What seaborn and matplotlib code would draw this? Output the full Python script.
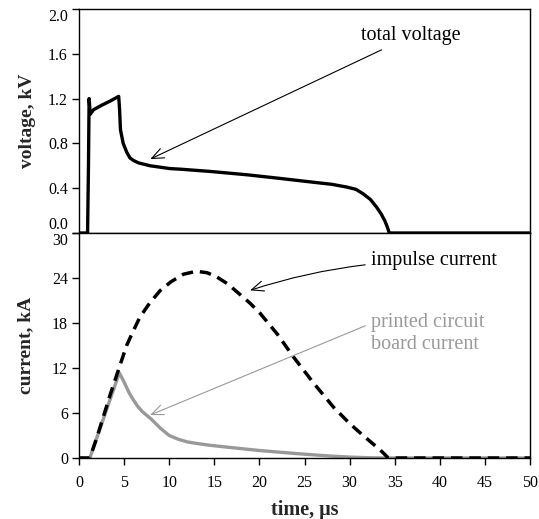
import matplotlib
matplotlib.use("Agg")
import matplotlib.pyplot as plt
import seaborn as sns
import pandas as pd

# ---- data ----
t_volt = [0, 0.95, 1.05, 1.12, 1.25, 1.6, 2.5, 3.5, 4.4, 4.5, 4.6, 4.9, 5.3, 5.65, 6.1, 6.6,
          7.9, 10.1, 11.2, 14.5, 18.6, 22.0, 26.0, 28.0, 29.7, 30.7, 31.5, 32.3, 33.0, 33.5,
          33.9, 34.2, 34.4, 50]
volt = [0, 0, 0.6, 1.2, 1.06, 1.1, 1.14, 1.18, 1.22, 1.1, 0.92, 0.8, 0.72, 0.67, 0.645, 0.626,
        0.60, 0.575, 0.57, 0.55, 0.52, 0.49, 0.453, 0.435, 0.41, 0.39, 0.35, 0.30, 0.23, 0.17,
        0.11, 0.05, 0, 0]

t_imp = [0, 1.2, 2.0, 2.7, 3.5, 4.36, 5.28, 6.0, 6.76, 7.8, 8.98, 10.2, 11.57, 13.0, 14.2,
         15.2, 16.5, 17.85, 19.0, 20.07, 22.0, 23.76, 26.0, 28.2, 30.0, 31.5, 33.4, 34.3, 50]
imp = [0, 0, 2.8, 5.5, 8.6, 11.7, 15.0, 16.9, 18.8, 20.6, 22.3, 23.5, 24.5, 24.9, 24.7,
       24.2, 23.2, 21.8, 20.6, 19.3, 16.5, 13.5, 10.0, 6.8, 4.6, 3.0, 1.06, 0, 0]

t_pcb = [0, 1.2, 4.47, 4.8, 5.2, 5.6, 6.0, 6.5, 7.0, 7.5, 8.0, 8.5, 9.0, 10.0, 11.0, 12.0,
         13.0, 14.5, 16.4, 18.0, 20.0, 22.0, 24.0, 26.0, 28.0, 30.0, 32.0, 34.0, 50]
pcb = [0, 0, 11.35, 10.6, 9.6, 8.6, 7.8, 6.9, 6.2, 5.7, 5.2, 4.6, 4.0, 3.0, 2.5, 2.15,
       1.95, 1.7, 1.45, 1.25, 1.0, 0.8, 0.6, 0.42, 0.25, 0.12, 0.04, 0, 0]

volt_ticks = [0.0, 0.4, 0.8, 1.2, 1.6, 2.0]
curr_ticks = [0, 6, 12, 18, 24, 30]
time_ticks = [0, 5, 10, 15, 20, 25, 30, 35, 40, 45, 50]

df_v = pd.DataFrame({"t": t_volt, "v": volt})
df_i = pd.DataFrame({"t": t_imp, "i": imp})
df_p = pd.DataFrame({"t": t_pcb, "p": pcb})

sns.set_style("ticks")
plt.rcParams["font.family"] = ["Liberation Serif", "DejaVu Serif"]

fig = plt.figure(figsize=(5.39, 5.19), dpi=100)
L, R = 79 / 539, 530 / 539
ymid = 1 - 233 / 519
ybot = 1 - 458 / 519
ytop = 1 - 9 / 519
ax1 = fig.add_axes([L, ymid, R - L, ytop - ymid])
ax2 = fig.add_axes([L, ybot, R - L, ymid - ybot], sharex=ax1)

grey = "#999999"

sns.lineplot(data=df_v, x="t", y="v", ax=ax1, color="black", lw=2.4, sort=False)
sns.lineplot(data=df_p, x="t", y="p", ax=ax2, color=grey, lw=2.4, sort=False)
sns.lineplot(data=df_i, x="t", y="i", ax=ax2, color="black", lw=2.5, sort=False)
ax2.lines[-1].set_dashes((3.3, 2.0))

for ax in (ax1, ax2):
    for s in ax.spines.values():
        s.set_color("black")
        s.set_linewidth(1.0)
    ax.tick_params(direction="out", length=5, width=1, colors="black", labelsize=11.5)
    ax.tick_params(axis="y", pad=3)
    ax.tick_params(axis="x", pad=7)
    ax.set_xlim(0, 50)

ax1.set_ylim(0, 2.0)
ax1.set_yticks(volt_ticks)
ax1.set_yticklabels([f"{v:.1f}" for v in volt_ticks])
ax1.tick_params(axis="x", bottom=False, labelbottom=False)
ax1.set_xlabel("")
ax1.set_ylabel("voltage, kV", fontsize=14, fontweight="bold", labelpad=9)

ax2.set_ylim(0, 30)
ax2.set_yticks(curr_ticks)
ax2.set_yticklabels([str(c) for c in curr_ticks])
ax2.set_xticks(time_ticks)
ax2.set_xticklabels([str(t) for t in time_ticks])
ax2.set_xlabel("time, μs", fontsize=14.5, fontweight="bold", labelpad=7)
ax2.set_ylabel("current, kA", fontsize=14, fontweight="bold", labelpad=13)

# separate the overlapping labels at the boundary
fig.canvas.draw()
ax1.get_yticklabels()[0].set_va("bottom")
ax1.get_yticklabels()[-1].set_va("top")
ax2.get_yticklabels()[-1].set_va("top")

# annotations
ax1.annotate("total voltage", xy=(7.9, 0.66), xytext=(31.3, 1.76),
             fontsize=14.5, va="center", ha="left", color="black",
             arrowprops=dict(arrowstyle="->,head_length=0.6,head_width=0.25", lw=0.8,
                             color="black", shrinkA=2, shrinkB=0))
ax2.annotate("impulse current", xy=(18.96, 22.35), xytext=(32.4, 26.3),
             fontsize=14.5, va="center", ha="left", color="black",
             arrowprops=dict(arrowstyle="->,head_length=0.6,head_width=0.25", lw=0.8,
                             color="black", shrinkA=2, shrinkB=0,
                             connectionstyle="arc3,rad=0.08"))
ax2.annotate("printed circuit\nboard current", xy=(7.87, 5.72), xytext=(32.4, 16.6),
             fontsize=14.5, va="center", ha="left", color=grey, linespacing=1.2,
             arrowprops=dict(arrowstyle="->,head_length=0.6,head_width=0.25", lw=0.8,
                             color=grey, shrinkA=2, shrinkB=0,
                             relpos=(0, 0.75)))

fig.savefig("out.png", dpi=100)
